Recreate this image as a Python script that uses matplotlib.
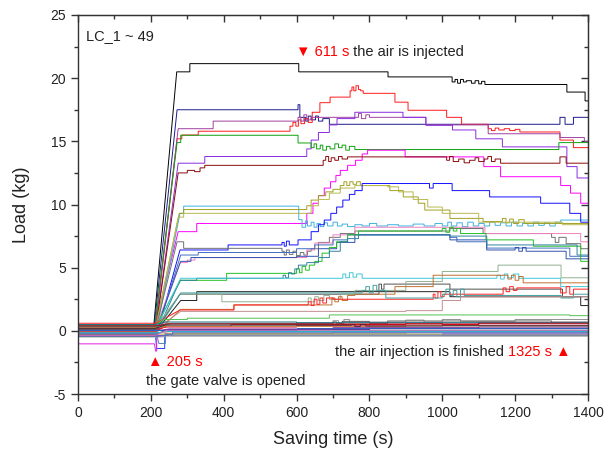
import matplotlib
matplotlib.use("Agg")
import matplotlib.pyplot as plt

plt.rcParams['font.family'] = ['Liberation Sans', 'DejaVu Sans']
plt.rcParams['axes.unicode_minus'] = False

# ---- data: each series = [(t, base), (ramp start, base), (ramp end, plateau), (t, v) steps...]
lc01 = [(0,0.1),(207,0.1),(271,20.5),(307,21.15),(606,20.5),(851,20.1),(1027,19.7),(1035,19.9),(1042,19.6),(1050,19.9),(1058,19.7),(1066,19.8),(1080,19.6),(1090,19.8),(1100,19.55),(1108,19.75),(1117,19.5),(1342,18.9),(1392,18.2)]
lc02 = [(0,0.3),(209,0.3),(272,17.5),(604,17.9),(609,16.9),(625,16.6),(632,17.0),(640,16.7),(652,17.0),(660,16.6),(672,16.8),(690,16.35),(1323,16.9),(1337,16.35),(1360,16.9)]
lc03 = [(0,-0.2),(211,-0.2),(272,15.2),(285,15.5),(330,15.8),(582,16.2),(590,16.5),(598,16.2),(605,16.7),(612,16.4),(622,16.8),(632,16.5),(643,17.3),(664,18.06),(692,18.5),(747,19.0),(752,19.3),(757,19.0),(763,19.4),(770,19.1),(776,19.0),(783,18.8),(870,18.1),(906,17.46),(1012,16.9),(1053,16.35),(1126,16.0),(1135,15.85),(1145,16.05),(1155,15.9),(1170,16.0),(1185,15.85),(1200,15.95),(1213,15.74),(1323,15.1),(1360,14.5)]
lc04 = [(0,0.0),(210,0.0),(275,16.0),(371,16.6),(604,16.9),(612,16.6),(620,17.1),(628,16.7),(640,16.9),(770,17.2),(778,16.8),(790,17.1),(800,16.9),(955,16.3),(1126,15.6),(1323,15.3),(1390,15.0)]
lc05 = [(0,-0.1),(212,-0.1),(275,13.27),(348,13.8),(628,14.4),(640,15.1),(660,15.7),(690,16.3),(711,16.8),(760,17.3),(892,16.9),(955,16.27),(1028,15.9),(1092,15.2),(1165,14.56),(1342,13.0),(1370,12.1)]
lc06 = [(0,0.2),(210,0.2),(272,14.9),(282,15.48),(604,14.87),(640,14.5),(648,14.8),(655,14.4),(665,14.7),(672,14.3),(682,14.6),(692,14.4),(705,14.8),(715,14.5),(725,14.7),(735,14.3),(745,14.6),(760,14.35),(1320,14.9)]
lc07 = [(0,0.45),(212,0.45),(275,7.85),(326,8.5),(628,9.3),(645,10.1),(660,10.7),(676,11.3),(693,11.8),(708,12.3),(720,12.7),(740,13.1),(762,13.5),(780,14.0),(795,14.3),(898,13.77),(1114,13.0),(1160,12.2),(1325,11.5),(1352,10.9),(1380,10.1)]
lc08 = [(0,0.1),(213,0.1),(275,12.5),(300,12.7),(320,12.6),(335,12.9),(348,13.1),(673,13.5),(680,13.8),(688,13.4),(695,13.7),(705,13.5),(715,13.8),(725,13.6),(740,13.77),(1012,13.5),(1020,13.8),(1030,13.4),(1045,13.6),(1060,13.3),(1075,13.5),(1090,13.7),(1100,13.4),(1115,13.6),(1125,13.8),(1135,13.4),(1145,13.6),(1160,13.27),(1323,13.77),(1340,13.27)]
lc09 = [(0,-0.3),(213,-0.3),(280,9.3),(290,9.87),(606,8.8),(615,8.2),(625,8.7),(630,8.3),(640,8.6),(648,8.2),(656,8.5),(665,8.25),(675,8.55),(685,8.3),(700,8.6),(712,8.3),(725,8.45),(740,8.25),(760,8.4),(780,8.3),(800,8.5),(820,8.3),(850,8.4),(880,8.3),(920,8.45),(950,8.3),(980,8.5),(1000,8.3),(1015,8.6),(1025,8.3),(1040,8.55),(1055,8.25),(1070,8.6),(1085,8.3),(1100,8.5),(1115,8.3),(1130,8.6),(1145,8.35),(1160,8.55),(1175,8.3),(1190,8.6),(1205,8.3),(1220,8.5),(1235,8.3),(1250,8.6),(1265,8.35),(1280,8.55),(1295,8.3),(1310,8.6),(1325,8.77)]
lc10 = [(0,0.2),(212,0.2),(278,9.3),(290,9.6),(628,9.9),(640,10.35),(660,10.7),(680,11.0),(700,11.2),(720,11.5),(730,11.8),(738,11.5),(746,11.8),(755,11.6),(765,11.8),(775,11.5),(856,11.1),(893,10.6),(934,10.1),(952,9.56),(1021,8.9),(1112,8.65),(1165,8.9),(1175,8.55),(1185,8.85),(1195,8.5),(1210,8.8),(1225,8.5)]
lc11 = [(0,-0.1),(212,-0.1),(275,9.0),(290,9.3),(640,9.9),(660,10.4),(690,10.9),(720,11.3),(760,11.5),(850,11.4),(880,11.0),(920,10.4),(960,9.8),(1000,9.3),(1100,8.6),(1330,8.4)]
lc12 = [(0,-0.4),(215,-0.4),(280,6.4),(412,6.8),(560,7.0),(566,6.7),(572,7.1),(580,6.8),(604,7.2),(640,7.85),(660,8.4),(676,8.77),(694,9.3),(710,9.8),(727,10.35),(745,10.8),(760,11.1),(780,11.66),(965,11.3),(975,11.66),(1027,11.1),(1130,10.6),(1270,10.1),(1350,9.3),(1380,8.6)]
lc13 = [(0,0.0),(212,0.0),(272,7.05),(290,6.53),(560,6.3),(566,6.0),(572,6.4),(580,6.05),(590,6.3),(600,5.95),(610,6.2),(620,6.0),(630,6.3),(640,6.5),(660,7.0),(690,7.4),(720,7.7),(760,7.9),(1021,8.1),(1112,7.7),(1300,7.4),(1310,7.0),(1320,7.4),(1340,6.9),(1380,6.5)]
lc14 = [(0,0.3),(214,0.3),(280,5.4),(300,5.6),(321,5.8),(628,6.4),(650,6.95),(700,7.6),(760,8.2),(1117,7.7),(1380,7.05)]
lc15 = [(0,-0.2),(215,-0.2),(282,6.0),(330,6.2),(600,6.5),(650,6.8),(700,7.2),(740,7.6),(1021,7.4),(1040,7.05),(1122,6.55),(1350,5.9)]
lc16 = [(0,0.1),(215,0.1),(282,5.5),(310,5.8),(600,5.9),(660,6.5),(710,7.0),(760,7.6),(1021,7.2),(1122,6.4),(1200,6.6),(1210,6.3),(1220,6.6),(1230,6.3),(1340,5.7)]
lc17 = [(0,0.5),(216,0.5),(282,4.0),(408,4.55),(600,4.9),(608,4.6),(615,5.1),(625,4.8),(635,5.2),(650,5.5),(670,6.15),(690,6.6),(710,7.05),(740,7.6),(770,7.9),(1000,8.1),(1010,7.8),(1020,8.2),(1030,7.9),(1040,8.1),(1050,7.7),(1120,7.2),(1250,6.7),(1380,5.5)]
lc18 = [(0,-0.3),(214,-0.3),(280,4.0),(326,4.16),(563,4.4),(570,4.2),(578,4.6),(586,4.5),(595,4.9),(605,5.2),(628,5.4),(660,5.8),(690,6.3),(720,7.05),(740,7.3),(770,7.6),(1021,7.5),(1122,6.8),(1370,6.0)]
lc19 = [(0,0.2),(214,0.2),(282,4.16),(727,4.5),(735,4.2),(745,4.6),(755,4.25),(765,4.5),(780,4.16),(1150,4.4),(1160,4.1),(1170,4.5),(1180,4.2),(1195,4.5),(1210,4.16),(1325,3.5)]
lc20 = [(0,0.0),(215,0.0),(282,2.4),(326,3.1),(1021,2.7),(1380,2.0)]
lc21 = [(0,0.1),(215,0.1),(280,2.9),(826,3.7),(833,3.3),(840,3.7),(1021,3.3),(1330,2.7)]
lc22 = [(0,0.4),(216,0.4),(280,2.9),(395,2.3),(632,2.6),(640,2.3),(650,2.7),(660,2.4),(675,2.8),(690,2.5),(720,2.9),(760,3.2),(900,3.9),(1000,4.7),(1153,5.2),(1326,4.2)]
lc23 = [(0,-0.1),(216,-0.1),(282,1.7),(428,2.05),(697,2.6),(705,2.3),(715,2.7),(725,2.4),(740,2.8),(760,2.9),(870,3.5),(975,4.4),(1180,4.1),(1190,4.4),(1200,4.0),(1210,4.3),(1222,3.8)]
lc24 = [(0,0.6),(214,0.6),(280,1.65),(428,2.05),(632,2.3),(640,2.0),(648,2.5),(656,2.1),(664,2.6),(672,2.2),(682,2.6),(700,2.5),(975,2.9),(980,2.6),(988,3.1),(996,2.7),(1005,2.9),(1167,3.4),(1175,3.1),(1185,3.5),(1195,3.2),(1205,3.4),(1325,3.0),(1340,3.5),(1350,2.9),(1360,3.3)]
lc25 = [(0,0.0),(216,0.0),(282,3.0),(780,3.2),(790,3.5),(800,3.0),(810,3.6),(820,3.2),(845,2.6),(1000,2.9),(1010,3.3),(1020,2.8),(1030,3.2),(1040,2.7),(1050,3.3),(1060,2.8),(1326,2.6),(1360,2.9)]
lc26 = [(0,0.2),(216,0.2),(282,1.54),(900,1.6),(1000,2.4),(1050,2.7)]
lc27 = [(0,0.45),(213,0.45),(235,0.9),(300,1.0),(690,1.26),(1350,1.2)]
lc28 = [(0,-0.05),(212,-0.05),(240,0.35),(420,0.5),(900,0.6),(1000,0.5),(1100,0.62)]
lc29 = [(0,0.15),(212,0.15),(245,0.3),(600,0.4),(800,0.45)]
lc30 = [(0,0.3),(213,0.3),(250,0.6),(700,0.8),(715,0.6),(730,0.9),(745,0.7),(900,0.85),(950,0.7),(1000,0.9),(1050,0.75),(1200,0.9)]
lc31 = [(0,-0.3),(213,-0.3),(245,0.1),(800,0.2)]
lc32 = [(0,0.0),(214,0.0),(250,0.15),(700,0.25),(1100,0.3)]
lc33 = [(0,-0.2),(212,-0.2),(216,-1.4),(238,-0.25),(260,-0.05),(900,0.0)]
lc34 = [(0,-1.03),(210,-1.03),(213,-1.6),(216,-0.4),(240,-0.2),(700,-0.1)]
lc35 = [(0,-0.1),(214,-0.1),(250,-0.2),(900,-0.25)]
lc36 = [(0,0.05),(214,0.05),(255,0.0),(800,0.05)]
lc37 = [(0,0.35),(214,0.35),(255,0.55),(700,0.7),(710,0.55),(725,0.75),(800,0.6),(850,0.78),(1300,0.7)]
lc38 = [(0,-0.4),(215,-0.4),(250,-0.3),(1000,-0.25)]
lc39 = [(0,-0.5),(216,-0.5),(260,-0.45)]
lc40 = [(0,-0.25),(215,-0.25),(255,-0.3),(1000,-0.35)]
lc41 = [(0,0.1),(213,0.1),(250,0.1),(600,0.2)]
lc42 = [(0,0.25),(214,0.25),(250,0.35),(900,0.4)]
lc43 = [(0,-0.15),(214,-0.15),(250,-0.05)]
lc44 = [(0,0.5),(213,0.5),(240,0.7),(600,0.65)]
lc45 = [(0,0.2),(212,0.2),(240,0.45),(750,0.5),(760,0.35),(775,0.5),(790,0.38),(1000,0.4)]
lc46 = [(0,-0.35),(214,-0.35),(245,0.05)]
lc47 = [(0,-0.2),(215,-0.2),(222,-1.0),(240,-0.3),(260,-0.15)]
lc48 = [(0,0.4),(214,0.4),(245,0.55),(1100,0.6)]
lc49 = [(0,-0.45),(215,-0.45),(250,-0.35)]

series = [lc01, lc02, lc03, lc04, lc05, lc06, lc07, lc08, lc09, lc10,
          lc11, lc12, lc13, lc14, lc15, lc16, lc17, lc18, lc19, lc20,
          lc21, lc22, lc23, lc24, lc25, lc26, lc27, lc28, lc29, lc30,
          lc31, lc32, lc33, lc34, lc35, lc36, lc37, lc38, lc39, lc40,
          lc41, lc42, lc43, lc44, lc45, lc46, lc47, lc48, lc49]

colors = ["#000000", "#1a1a8c", "#ff1a1a", "#a040a0", "#8a2be2", "#10a010", "#ff00ff", "#8b0a0a", "#40b0e0", "#a0a020",
          "#b8b850", "#1010ff", "#707070", "#f080c0", "#4070c0", "#3050b0", "#20c020", "#3080a0", "#40c8d8", "#202020",
          "#505050", "#90b090", "#c07030", "#ff2020", "#40a0a0", "#c09090", "#50c050", "#ff0000", "#d01050", "#909090",
          "#1a1a80", "#8030a0", "#2040ff", "#e020e0", "#a8a860", "#209090", "#606060", "#7040e0", "#b8b8b8", "#c0c070",
          "#3060c0", "#d08040", "#30b0d0", "#207080", "#303030", "#e070b0", "#5080c0", "#a01020", "#6070a0"]

x_ticks = [0, 200, 400, 600, 800, 1000, 1200, 1400]
y_ticks = [-5, 0, 5, 10, 15, 20, 25]
x_minor = [100, 300, 500, 700, 900, 1100, 1300]
y_minor = [-2.5, 2.5, 7.5, 12.5, 17.5, 22.5]


def path(s, t_end=1400):
    xs = [s[0][0], s[1][0], s[2][0]]
    ys = [s[0][1], s[1][1], s[2][1]]
    prev = s[2][1]
    for t, v in s[3:]:
        xs += [t, t]
        ys += [prev, v]
        prev = v
    xs.append(t_end)
    ys.append(prev)
    return xs, ys


fig = plt.figure(figsize=(6.06, 4.53), dpi=100)
ax = fig.add_axes([78/606, 59/453, 510/606, 379/453])

for s, c in zip(series, colors):
    xs, ys = path(s)
    ax.plot(xs, ys, color=c, lw=0.7, solid_joinstyle='miter')

ax.set_xlim(0, 1400)
ax.set_ylim(-5, 25)
ax.set_xticks(x_ticks)
ax.set_yticks(y_ticks)
ax.set_xticks(x_minor, minor=True)
ax.set_yticks(y_minor, minor=True)
ax.tick_params(which='major', direction='out', length=5, width=1, color='#333333',
               labelsize=10, labelcolor='#222222')
ax.tick_params(which='minor', direction='out', length=3, width=1, color='#333333')
for sp in ax.spines.values():
    sp.set_color('#333333')
    sp.set_linewidth(1.0)

secx = ax.secondary_xaxis('top')
secx.set_xticks(x_ticks)
secx.set_xticks(x_minor, minor=True)
secx.tick_params(which='major', direction='in', length=5, width=1, color='#333333', labeltop=False)
secx.tick_params(which='minor', direction='in', length=3, width=1, color='#333333')
secx.spines['top'].set_color('#333333')
secy = ax.secondary_yaxis('right')
secy.set_yticks(y_ticks)
secy.set_yticks(y_minor, minor=True)
secy.tick_params(which='major', direction='in', length=5, width=1, color='#333333', labelright=False)
secy.tick_params(which='minor', direction='in', length=3, width=1, color='#333333')
secy.spines['right'].set_color('#333333')

ax.set_xlabel("Saving time (s)", fontsize=13, color='#222222', labelpad=8)
ax.set_ylabel("Load (kg)", fontsize=13, color='#222222', labelpad=15)

fs = 10.5
ax.text(22, 23.35, "LC_1 ~ 49", fontsize=fs, color='#222222', va='center', ha='left')

t1 = ax.text(598, 22.05, "\u25bc 611 s", fontsize=fs, color='#ff0000', va='center', ha='left')
ax.annotate(" the air is injected", xy=(1, 0), xycoords=t1, fontsize=fs, color='#222222',
            va='bottom', ha='left')

ax.text(192, -2.5, "\u25b2 205 s", fontsize=fs, color='#ff0000', va='center', ha='left')
ax.text(187, -3.95, "the gate valve is opened", fontsize=fs, color='#222222', va='center', ha='left')

t2 = ax.text(705, -1.7, "the air injection is finished ", fontsize=fs, color='#222222', va='center', ha='left')
ax.annotate("1325 s \u25b2", xy=(1, 0), xycoords=t2, fontsize=fs, color='#ff0000',
            va='bottom', ha='left')

fig.savefig("out.png", dpi=100)
